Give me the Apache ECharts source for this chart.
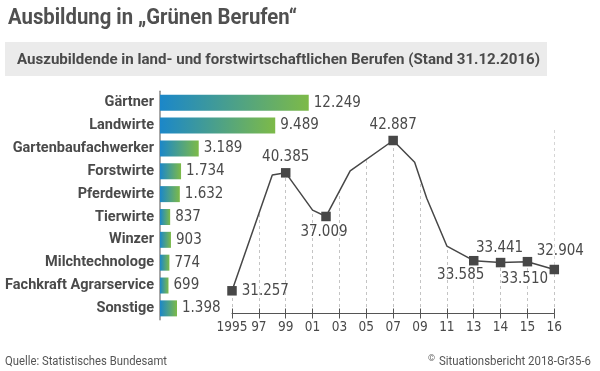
<!DOCTYPE html>
<html>
<head>
<meta charset="utf-8">
<script src="https://cdn.jsdelivr.net/npm/echarts@6/dist/echarts.min.js"></script>
<style>
html,body{margin:0;padding:0;background:#fff;}
#c{width:600px;height:371px;}
</style>
</head>
<body>
<div id="c"></div>
<script>
// ---- data ----
const barCategories = ['Gärtner','Landwirte','Gartenbaufachwerker','Forstwirte','Pferdewirte','Tierwirte','Winzer','Milchtechnologe','Fachkraft Agrarservice','Sonstige'];
const barValues = [12249, 9489, 3189, 1734, 1632, 837, 903, 774, 699, 1398];

const lineYears  = [1995, 1998, 1999, 2001, 2002, 2003.8, 2007, 2008.6, 2009.5, 2011, 2013, 2014, 2015, 2016];
const lineValues = [31257, 40220, 40385, 37500, 37009, 40530, 42887, 41200, 38420, 34720, 33585, 33441, 33510, 32904];
const markedYears = [1995, 1999, 2002, 2007, 2013, 2014, 2015, 2016];

const tickLabels = ['1995','97','99','01','03','05','07','09','11','13','14','15','16'];

const titleText = 'Ausbildung in „Grünen Berufen“';
const subtitleText = 'Auszubildende in land- und forstwirtschaftlichen Berufen (Stand 31.12.2016)';
const sourceText = 'Quelle: Statistisches Bundesamt';
const creditText = 'Situationsbericht 2018-Gr35-6';

// ---- helpers ----
const SANS = "Roboto,'DejaVu Sans',sans-serif";
const NUM = "'DejaVu Sans Condensed','DejaVu Sans',sans-serif";
const TXT = '#4a4a4a';
function fmt(v){ return String(v).replace(/\B(?=(\d{3})+(?!\d))/g, '.'); }
function yearPos(y){ return y <= 2013 ? (y - 1995) / 2 : 9 + (y - 2013); }
const mctx = document.createElement('canvas').getContext('2d');
function textW(text, font){ mctx.font = font; return mctx.measureText(text).width; }
// fitted text: left x, middle y, target width
function fitText(text, font, x, y, w, fill){
  const s = w / textW(text, font);
  return { type:'text', x: x, y: y, scaleX: s, scaleY: 1,
    style: { text: text, font: font, fill: fill, verticalAlign: 'middle', align: 'left' } };
}

const labelPlacement = {
  1995: {position:'right', distance:5, offset:[0,0]},
  1999: {position:'top', distance:3, offset:[0,0]},
  2002: {position:'bottom', distance:3, offset:[-2,0]},
  2007: {position:'top', distance:3, offset:[0,0]},
  2013: {position:'bottom', distance:2, offset:[-13,0]},
  2014: {position:'top', distance:2, offset:[-1,0]},
  2015: {position:'bottom', distance:5, offset:[-3,0]},
  2016: {position:'top', distance:6, offset:[6,0]}
};

const lineData = lineYears.map((y, i) => {
  const marked = markedYears.indexOf(y) >= 0;
  const item = { value: [yearPos(y), lineValues[i]] };
  if (marked) {
    const p = labelPlacement[y];
    item.symbol = 'rect';
    item.label = { show: true, position: p.position, distance: p.distance, offset: p.offset };
  } else {
    item.symbol = 'none';
  }
  return item;
});

const titleFont = "bold 21.5px " + SANS;
const subFont = "bold 15px " + SANS;
const footFont = "12px " + SANS;

const chart = echarts.init(document.getElementById('c'), null, {renderer:'canvas'});
chart.setOption({
  animation: false,
  backgroundColor: '#fff',
  graphic: [
    fitText(titleText, titleFont, 8, 18.5, 289, '#505050'),
    { type:'rect', shape: { x: 5, y: 42, width: 542, height: 34 }, style: { fill: '#ebebeb' } },
    fitText(subtitleText, subFont, 17, 60, 523, TXT),
    fitText(sourceText, footFont, 5, 362, 162, '#555'),
    fitText(creditText, footFont, 439, 362, 152, '#555'),
    { type:'text', x: 428, y: 359, style: { text: '©', font: "9px " + SANS, fill: '#666', verticalAlign: 'middle' } }
  ],
  grid: [
    { left: 160, top: 91.3, width: 153, height: 228.5, containLabel: false, outerBoundsMode: 'none' },
    { left: 232, top: 130, right: 45.7, height: 183.5, containLabel: false, outerBoundsMode: 'none' }
  ],
  xAxis: [
    { gridIndex: 0, type: 'value', min: 0, max: 12600, show: false },
    { gridIndex: 1, type: 'value', min: 0, max: 12, interval: 1,
      axisLine: { show: true, lineStyle: { color: '#555', width: 1 } },
      axisTick: { show: true, length: 5, lineStyle: { color: '#555' } },
      axisLabel: { color: TXT, fontFamily: NUM, fontSize: 13.5, margin: 7,
        formatter: v => tickLabels[Math.round(v)] !== undefined ? tickLabels[Math.round(v)] : '' },
      splitLine: { show: true, lineStyle: { color: '#c4c4c4', type: [3, 3], width: 1 } } },
    { gridIndex: 1, type: 'value', min: 0, max: 12, interval: 1, position: 'bottom',
      axisLine: { show: false },
      axisTick: { show: true, inside: true, length: 5, lineStyle: { color: '#555' } },
      axisLabel: { show: false }, splitLine: { show: false } }
  ],
  yAxis: [
    { gridIndex: 0, type: 'category', data: barCategories, inverse: true,
      axisLine: { show: true, lineStyle: { color: '#8a8a8a', width: 1.5 } },
      axisTick: { show: false },
      axisLabel: { color: TXT, fontFamily: SANS, fontWeight: 'bold', fontSize: 14.5, margin: 6 } },
    { gridIndex: 1, type: 'value', min: 29500, max: 43700, show: false, splitLine: { show: false } }
  ],
  series: [
    { type: 'bar', xAxisIndex: 0, yAxisIndex: 0, data: barValues, barWidth: 16, z: 6,
      itemStyle: { color: new echarts.graphic.LinearGradient(0, 0, 1, 0, [
        { offset: 0, color: '#1b87c9' }, { offset: 1, color: '#7dba48' } ]) },
      label: { show: true, position: 'right', distance: 5, color: TXT, fontFamily: NUM, fontSize: 15,
        formatter: p => fmt(p.value) } },
    { type: 'line', xAxisIndex: 1, yAxisIndex: 1, data: lineData, z: 3,
      symbolSize: 9.5, showAllSymbol: true,
      lineStyle: { color: '#474747', width: 1.5 },
      itemStyle: { color: '#474747' },
      areaStyle: { color: '#ffffff', opacity: 1, origin: 'end' },
      label: { color: TXT, fontFamily: NUM, fontSize: 15,
        formatter: p => fmt(p.value[1]) } }
  ]
});
</script>
</body>
</html>
